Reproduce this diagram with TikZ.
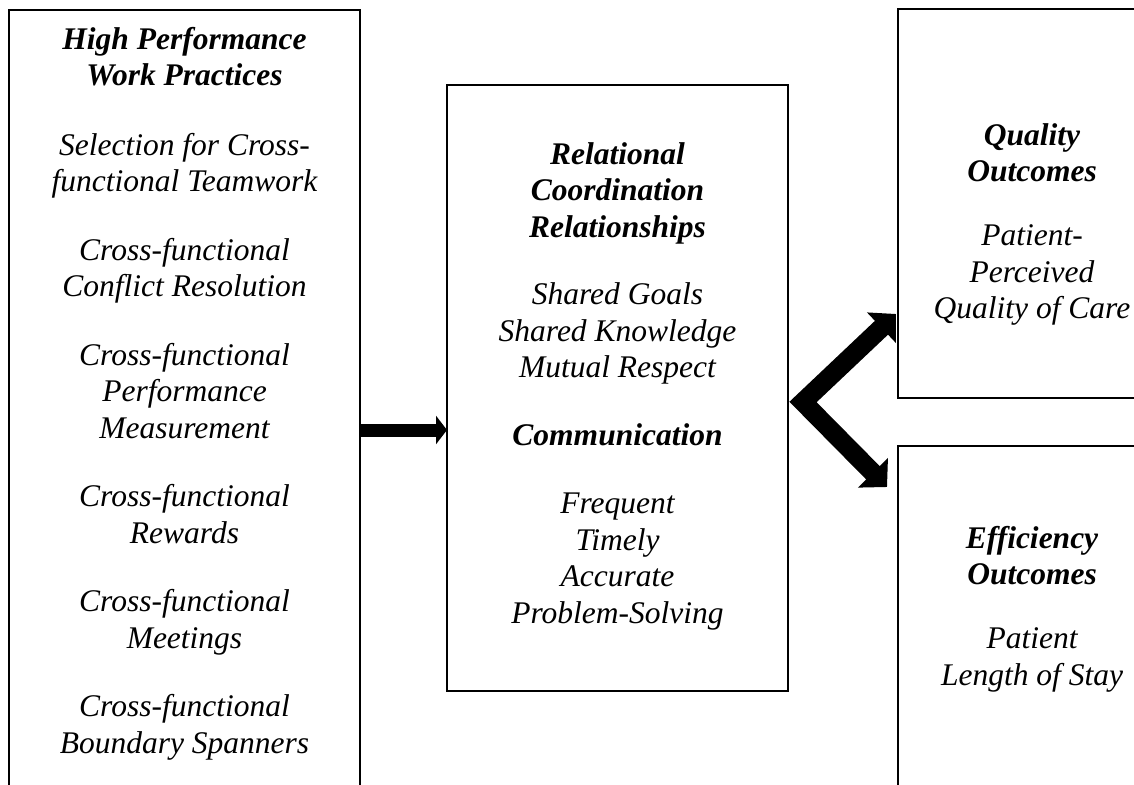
\documentclass[tikz,border=0pt]{standalone}
\usepackage{fontspec}
\setmainfont{Liberation Serif}
\usetikzlibrary{positioning,arrows.meta,calc}

\begin{document}
\begin{tikzpicture}[x=1pt,y=-1pt,
  box/.style={draw,line width=1.6pt,outer sep=0pt,inner sep=0pt},
  box text/.style={align=center,inner sep=0pt,outer sep=0pt,font=\fontsize{31.5}{36.5}\selectfont\itshape},
  fat arrow/.style={line width=13pt,-{Triangle[length=11pt,width=28pt]}},
  fork arrow/.style={line width=19pt,{Triangle[length=20pt,width=41pt]}-{Triangle[length=20pt,width=41pt]}}]
    \useasboundingbox (0,0) rectangle (1134,784);
    \clip (0,0) rectangle (1134,784);

    \node[box,minimum width=351pt,minimum height=840pt] (hp) at (184.5,430) {};
    \node[box,line width=2pt,minimum width=341pt,minimum height=606pt] (rc) at (617.5,388) {};
    \node[box,minimum width=268pt,minimum height=389pt] (qo) at (1032,203.5) {};
    \node[box,minimum width=268pt,minimum height=404pt] (eo) at (1032,648) {};

    \node[box text,below=13.5pt of hp.north] (hp text) {\strut\textbf{High Performance}\\
      \textbf{Work Practices}\\[33pt]
      Selection for Cross-\\ functional Teamwork\\[32pt]
      Cross-functional\\ Conflict Resolution\\[32pt]
      Cross-functional\\ Performance\\ Measurement\\[32pt]
      Cross-functional\\ Rewards\\[32pt]
      Cross-functional\\ Meetings\\[32pt]
      Cross-functional\\ Boundary Spanners};
    \node[box text,below=53.5pt of rc.north] (rc text) {\strut\textbf{Relational}\\
      \textbf{Coordination}\\ \textbf{Relationships}\\[31pt]
      Shared Goals\\ Shared Knowledge\\ Mutual Respect\\[31.5pt]
      \textbf{Communication}\\[31.5pt]
      Frequent\\ Timely\\ Accurate\\ Problem-Solving};
    \node[box text,below=110.5pt of qo.north] (qo text) {\strut\textbf{Quality}\\
      \textbf{Outcomes}\\[27.5pt]
      Patient-\\ Perceived\\ Quality of Care};
    \node[box text,below=76.5pt of eo.north] (eo text) {\strut\textbf{Efficiency}\\
      \textbf{Outcomes}\\[27.5pt]
      Patient\\ Length of Stay};

    \coordinate (fork) at ($(rc.east)+(15,14)$);
    \draw[fat arrow] (hp.east) -- (hp.east -| rc.west);
    \draw[fork arrow] ($(qo.south west)+(-2,-84)$) -- (fork) -- ($(eo.north west)+(-11,41)$);
\end{tikzpicture}
\end{document}
